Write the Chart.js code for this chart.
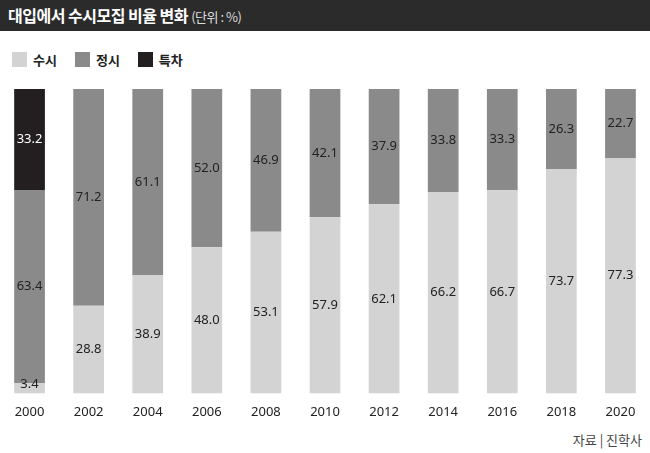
<!DOCTYPE html>
<html><head><meta charset="utf-8">
<script src="https://cdn.jsdelivr.net/npm/chart.js@4"></script>
<style>
body{margin:0;width:650px;height:453px;background:#fff;font-family:"Noto Sans CJK KR","Noto Sans",sans-serif;position:relative;overflow:hidden}
#title{position:absolute;left:0;top:0;width:650px;height:31px;background:#2b2b2b;color:#fff;font-size:16px;font-weight:bold;line-height:31px;padding-left:8px;box-sizing:border-box;letter-spacing:-0.5px}
#title span{font-weight:normal;font-size:13px;color:#ddd}
#legend{position:absolute;left:12px;top:50px;font-size:13px;font-weight:bold;color:#222;display:flex;gap:18px}
#legend div{display:flex;align-items:center}
#legend i{display:inline-block;width:15px;height:15px;margin-right:6px}
#src{position:absolute;right:8px;top:430px;font-size:13px;color:#444}
canvas{position:absolute;left:0;top:0}
</style></head><body>
<div id="title">대입에서 수시모집 비율 변화 <span>(단위 : %)</span></div>
<div id="legend"><div><i style="background:#d3d3d3"></i>수시</div><div><i style="background:#8a8a8a"></i>정시</div><div><i style="background:#231f20"></i>특차</div></div>
<div id="src">자료 | 진학사</div>
<div style="position:absolute;left:0;top:0;width:650px;height:453px"><canvas id="c"></canvas></div>
<script>
const years = ['2000','2002','2004','2006','2008','2010','2012','2014','2016','2018','2020'];
const susi = [3.4,28.8,38.9,48.0,53.1,57.9,62.1,66.2,66.7,73.7,77.3];
const jeongsi = [63.4,71.2,61.1,52.0,46.9,42.1,37.9,33.8,33.3,26.3,22.7];
const teukcha = [33.2,0,0,0,0,0,0,0,0,0,0];

const labelPlugin = {
  id: 'labels',
  afterDatasetsDraw(chart) {
    const ctx = chart.ctx;
    ctx.save();
    ctx.font = '13px "Noto Sans", sans-serif';
    ctx.textAlign = 'center';
    ctx.textBaseline = 'middle';
    chart.data.datasets.forEach((ds, i) => {
      chart.getDatasetMeta(i).data.forEach((bar, j) => {
        const v = ds.data[j];
        if (!v) return;
        ctx.fillStyle = i === 2 ? '#fff' : '#222';
        const y = (bar.y + bar.base) / 2;
        ctx.fillText(v.toFixed(1), bar.x, Math.min(y, chart.chartArea.bottom - 9));
      });
    });
    ctx.restore();
  }
};

new Chart(document.getElementById('c'), {
  type: 'bar',
  data: {
    labels: years,
    datasets: [
      { label: '수시', data: susi, backgroundColor: '#d3d3d3' },
      { label: '정시', data: jeongsi, backgroundColor: '#8a8a8a' },
      { label: '특차', data: teukcha, backgroundColor: '#231f20' }
    ]
  },
  options: {
    responsive: true, maintainAspectRatio: false, animation: false,
    layout: { padding: { left: 0, right: 0, top: 89, bottom: 30 } },
    plugins: { legend: { display: false }, tooltip: { enabled: false } },
    datasets: { bar: { barPercentage: 0.52, categoryPercentage: 1 } },
    scales: {
      x: { stacked: true, grid: { display: false }, border: { display: false },
           ticks: { color: '#222', font: { size: 13, family: '"Noto Sans", sans-serif' } } },
      y: { stacked: true, min: 0, max: 100, display: false }
    }
  },
  plugins: [labelPlugin]
});
</script>
</body></html>
